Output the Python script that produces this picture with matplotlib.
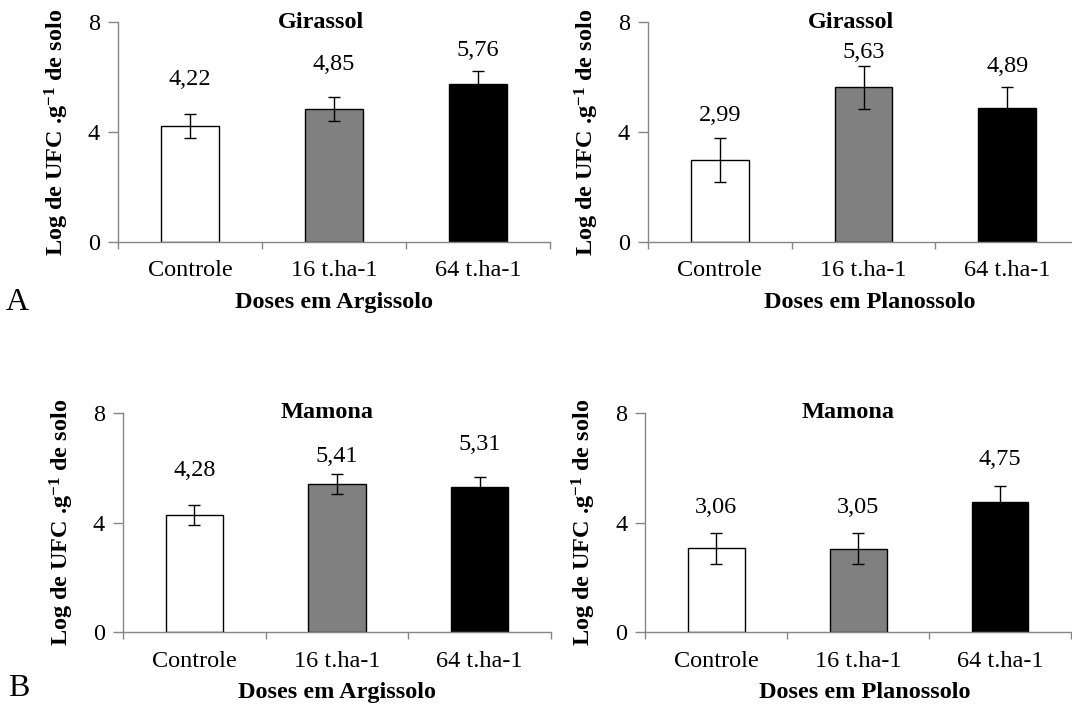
import matplotlib
matplotlib.use("Agg")
import matplotlib.pyplot as plt

plt.rcParams['font.family'] = ['Liberation Serif', 'DejaVu Serif']
plt.rcParams['mathtext.fontset'] = 'custom'
plt.rcParams['mathtext.rm'] = 'Liberation Serif'
plt.rcParams['mathtext.bf'] = 'Liberation Serif:bold'
plt.rcParams['mathtext.it'] = 'Liberation Serif:italic'

# ---------------- data ----------------
categories = ["Controle", "16 t.ha-1", "64 t.ha-1"]
bar_colors = ["#ffffff", "#808080", "#000000"]

girassol_argissolo = [4.22, 4.85, 5.76]
girassol_argissolo_err = [0.44, 0.44, 0.45]
girassol_planossolo = [2.99, 5.63, 4.89]
girassol_planossolo_err = [0.80, 0.78, 0.76]
mamona_argissolo = [4.28, 5.41, 5.31]
mamona_argissolo_err = [0.36, 0.36, 0.37]
mamona_planossolo = [3.06, 3.05, 4.75]
mamona_planossolo_err = [0.56, 0.56, 0.57]

value_labels_ga = ["4,22", "4,85", "5,76"]
value_labels_gp = ["2,99", "5,63", "4,89"]
value_labels_ma = ["4,28", "5,41", "5,31"]
value_labels_mp = ["3,06", "3,05", "4,75"]

# label heights (layout, in data units) as placed in the original
label_y_ga = [5.93, 6.47, 6.98]
label_y_gp = [4.60, 6.91, 6.39]
label_y_ma = [5.92, 6.43, 6.84]
label_y_mp = [4.55, 4.55, 6.29]

yticks = [0, 4, 8]
ylabel = "Log de UFC .g$\\mathbf{^{-1}}$ de solo"

W, H = 1072, 706
fig = plt.figure(figsize=(W / 100, H / 100), dpi=100)
fig.patch.set_facecolor("white")

AXIS_GRAY = "#868686"
FS = 17.5

def px_axes(left, right, y0, y8):
    return [left / W, (H - y0) / H, (right - left) / W, (y0 - y8) / H]

panels = [
    dict(rect=px_axes(118, 550, 241.7, 22.3), vals=girassol_argissolo, err=girassol_argissolo_err,
         labels=value_labels_ga, ly=label_y_ga, title="Girassol", title_x=0.471,
         xlabel="Doses em Argissolo", xlabel_x=0.5),
    dict(rect=px_axes(648, 1079, 241.7, 22.3), vals=girassol_planossolo, err=girassol_planossolo_err,
         labels=value_labels_gp, ly=label_y_gp, title="Girassol", title_x=0.471,
         xlabel="Doses em Planossolo", xlabel_x=0.515),
    dict(rect=px_axes(123, 551, 632.3, 413), vals=mamona_argissolo, err=mamona_argissolo_err,
         labels=value_labels_ma, ly=label_y_ma, title="Mamona", title_x=0.477,
         xlabel="Doses em Argissolo", xlabel_x=0.5),
    dict(rect=px_axes(645.4, 1071, 632.3, 413), vals=mamona_planossolo, err=mamona_planossolo_err,
         labels=value_labels_mp, ly=label_y_mp, title="Mamona", title_x=0.477,
         xlabel="Doses em Planossolo", xlabel_x=0.515),
]

for p in panels:
    ax = fig.add_axes(p["rect"])
    n = len(categories)
    xs = [i + 0.5 for i in range(n)]
    ax.bar(xs, p["vals"], width=0.40, color=bar_colors, edgecolor="black", linewidth=1.0, zorder=2)
    ax.errorbar(xs, p["vals"], yerr=p["err"], fmt="none", ecolor="black", elinewidth=1.0,
                capsize=4, capthick=1.0, zorder=3)
    for x, lab, y in zip(xs, p["labels"], p["ly"]):
        ax.text(x, y, lab, ha="center", va="center", fontsize=FS)

    ax.set_xlim(0, n)
    ax.set_ylim(0, 8)
    ax.set_yticks(yticks)
    ax.set_yticklabels([str(t) for t in yticks], fontsize=FS)
    ax.set_xticks(range(n + 1))
    ax.set_xticklabels([])
    ax.set_xticks(xs, minor=True)
    ax.set_xticklabels(categories, minor=True, fontsize=FS)
    ax.tick_params(axis="x", which="major", length=5, width=1, color=AXIS_GRAY, direction="out")
    ax.tick_params(axis="x", which="minor", length=0, pad=13.5)
    ax.tick_params(axis="y", which="major", length=7, width=1, color=AXIS_GRAY, direction="out", pad=6)

    for s in ["top", "right"]:
        ax.spines[s].set_visible(False)
    for s in ["left", "bottom"]:
        ax.spines[s].set_color(AXIS_GRAY)
        ax.spines[s].set_linewidth(1.0)
    ax.patch.set_alpha(0)

    ax.text(p["title_x"], 1.0, p["title"], transform=ax.transAxes, ha="center", va="center",
            fontsize=FS, fontweight="bold")
    ax.text(p["xlabel_x"], -0.275, p["xlabel"], transform=ax.transAxes, ha="center", va="center",
            fontsize=FS, fontweight="bold")
    axw_px = p["rect"][2] * W
    ax.text(-61 / axw_px, 0.5, ylabel, transform=ax.transAxes, ha="center", va="center",
            rotation=90, fontsize=FS, fontweight="bold")

fig.text(17 / W, 1 - 302 / H, "A", ha="center", va="center", fontsize=23)
fig.text(19 / W, 1 - 689 / H, "B", ha="center", va="center", fontsize=23)

fig.savefig("out.png", dpi=100, facecolor="white")
